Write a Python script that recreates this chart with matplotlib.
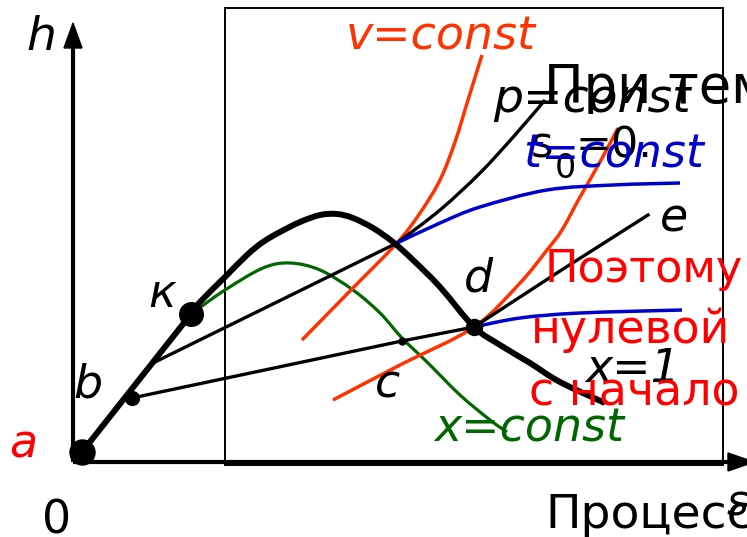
import numpy as np
import matplotlib.pyplot as plt
from matplotlib.path import Path
from matplotlib.patches import PathPatch

# h-s диаграмма: кривая насыщения и изолинии (s вправо, h вверх)
sat_lin_s = [0, 109]
sat_lin_h = [0, 138]
sat_s = [109, 118, 143, 165, 181, 198, 218, 238, 255, 271, 291, 311, 331, 358, 392, 418, 448, 478, 523]
sat_h = [138, 150, 175, 197, 210, 220, 230, 237, 238, 234, 224, 210, 192, 165, 125, 107, 89, 70, 49]

# изобары p=const
p1_lin_s = [73, 315]
p1_lin_h = [90, 209]
p1_s = [315, 358, 398, 433, 463]
p1_h = [209, 242, 279, 317, 352]
p2_s = [50, 320, 392]
p2_h = [54, 111, 125]
p3_s = [392, 478, 566]
p3_h = [125, 181, 237]

# изохоры v=const
v1_s = [220, 268, 315, 338, 358, 373, 386, 400]
v1_h = [112, 161, 209, 239, 272, 310, 352, 397]
v2_s = [251, 318, 392, 438, 465, 480, 498, 518, 536]
v2_h = [52, 87, 125, 169, 202, 222, 255, 290, 324]

# изотермы t=const
t1_s = [315, 358, 398, 465, 531, 598]
t1_h = [209, 229, 245, 262, 267, 269]
t2_s = [392, 438, 498, 600]
t2_h = [125, 134, 139, 142]

# линия постоянной степени сухости x=const
x_s = [109, 143, 181, 208, 238, 271, 298, 320, 345, 378, 408, 425]
x_h = [138, 162, 184, 189, 182, 162, 139, 114, 90, 57, 32, 20]

# точки a, b, к, d и точка на линии b-d
pts = {'a': (0, 0, 18), 'b': (50, 54, 10), 'k': (109, 138, 17), 'd': (392, 125, 11.5), 'c': (320, 111, 5)}

ORANGE = '#ff3300'
BLUE = '#0000cc'
GREEN = '#006600'
RED = '#ff0000'


def smooth(s, h):
    # гладкая кривая Безье через заданные точки (Catmull-Rom)
    P = np.column_stack([s, h]).astype(float)
    E = np.vstack([P[0], P, P[-1]])
    verts, codes = [P[0]], [Path.MOVETO]
    for i in range(len(P) - 1):
        p0, p1, p2, p3 = E[i], E[i + 1], E[i + 2], E[i + 3]
        verts += [p1 + (p2 - p0) / 6, p2 - (p3 - p1) / 6, p2]
        codes += [Path.CURVE4] * 3
    return Path(verts, codes)


def curve(ax, s, h, color, lw, z=3):
    ax.add_patch(PathPatch(smooth(s, h), fill=False, ec=color, lw=lw,
                           capstyle='butt', joinstyle='round', zorder=z))


fig = plt.figure(figsize=(7.47, 5.37), dpi=100)
ax = fig.add_axes([0, 0, 1, 1])
ax.set_xlim(-82, 665)
ax.set_ylim(-85, 452)
ax.axis('off')

# рамка
ax.add_patch(plt.Rectangle((143, -13), 498, 457, fill=False, lw=1.4, ec='black', zorder=1))

# оси со стрелками
ax.plot([-9, -9], [-10, 410], color='black', lw=3, solid_capstyle='butt', zorder=2)
ax.plot([-9, 650], [-10, -10], color='black', lw=3, solid_capstyle='butt', zorder=2)
ax.fill([-18, 0, -9], [404, 404, 429], color='black', zorder=2)
ax.fill([646, 646, 672], [-1, -19, -10], color='black', zorder=2)

curve(ax, x_s, x_h, GREEN, 2.3)
curve(ax, v1_s, v1_h, ORANGE, 2.5)
curve(ax, v2_s, v2_h, ORANGE, 2.5)
ax.plot(p1_lin_s, p1_lin_h, color='black', lw=2.4, zorder=3)
curve(ax, p1_s, p1_h, 'black', 2.4)
ax.plot(p2_s, p2_h, color='black', lw=2.4, zorder=3)
ax.plot(p3_s, p3_h, color='black', lw=2.4, zorder=3)
curve(ax, t1_s, t1_h, BLUE, 2.5)
curve(ax, t2_s, t2_h, BLUE, 2.5)
ax.plot(sat_lin_s, sat_lin_h, color='black', lw=4.3, zorder=4)
curve(ax, sat_s, sat_h, 'black', 4.3, z=4)

for name, (s, h, ms) in pts.items():
    ax.plot(s, h, 'o', color='black', ms=ms, zorder=5)

it = dict(style='italic', va='baseline', ha='left', zorder=6)
up = dict(va='baseline', ha='left', zorder=6)
ax.text(-56, 402, 'h', fontsize=34, color='black', **it)
ax.text(264, 402, 'v=const', fontsize=33, color=ORANGE, **it)
ax.text(462, 349, 'При тем', fontsize=38, color='black', **up)
ax.text(411, 340, 'p=const', fontsize=34, color='black', **it)
ax.text(449, 294, 's', fontsize=31, color='black', **up)
ax.text(473, 274, '0', fontsize=24, color='black', **up)
ax.text(494, 294, '=0.', fontsize=31, color='black', **up)
ax.text(441, 284, 't=const', fontsize=33, color=BLUE, **it)
ax.text(578, 220, 'e', fontsize=33, color='black', **it)
ax.text(463, 170, 'Поэтому', fontsize=32, color=RED, **up)
ax.text(382, 160, 'd', fontsize=33, color='black', **it)
ax.text(66, 145, 'к', fontsize=33, color='black', **it)
ax.text(449, 109, 'нулевой', fontsize=33, color=RED, **up)
ax.text(503, 70, 'x=1', fontsize=33, color='black', **it)
ax.text(-9, 54, 'b', fontsize=33, color='black', **it)
ax.text(293, 54, 'c', fontsize=33, color='black', **it)
ax.text(447, 47, 'с начало', fontsize=33, color=RED, **up)
ax.text(-73, -6, 'a', fontsize=33, color=RED, **it)
ax.text(352, 10, 'x=const', fontsize=33, color=GREEN, **it)
ax.text(-40, -81, '0', fontsize=33, color='black', **up)
ax.text(463, -76, 'Процесс', fontsize=34, color='black', **up)
ax.text(645, -63, 's', fontsize=30, color='black', **it)

fig.savefig('out.png', dpi=100)
